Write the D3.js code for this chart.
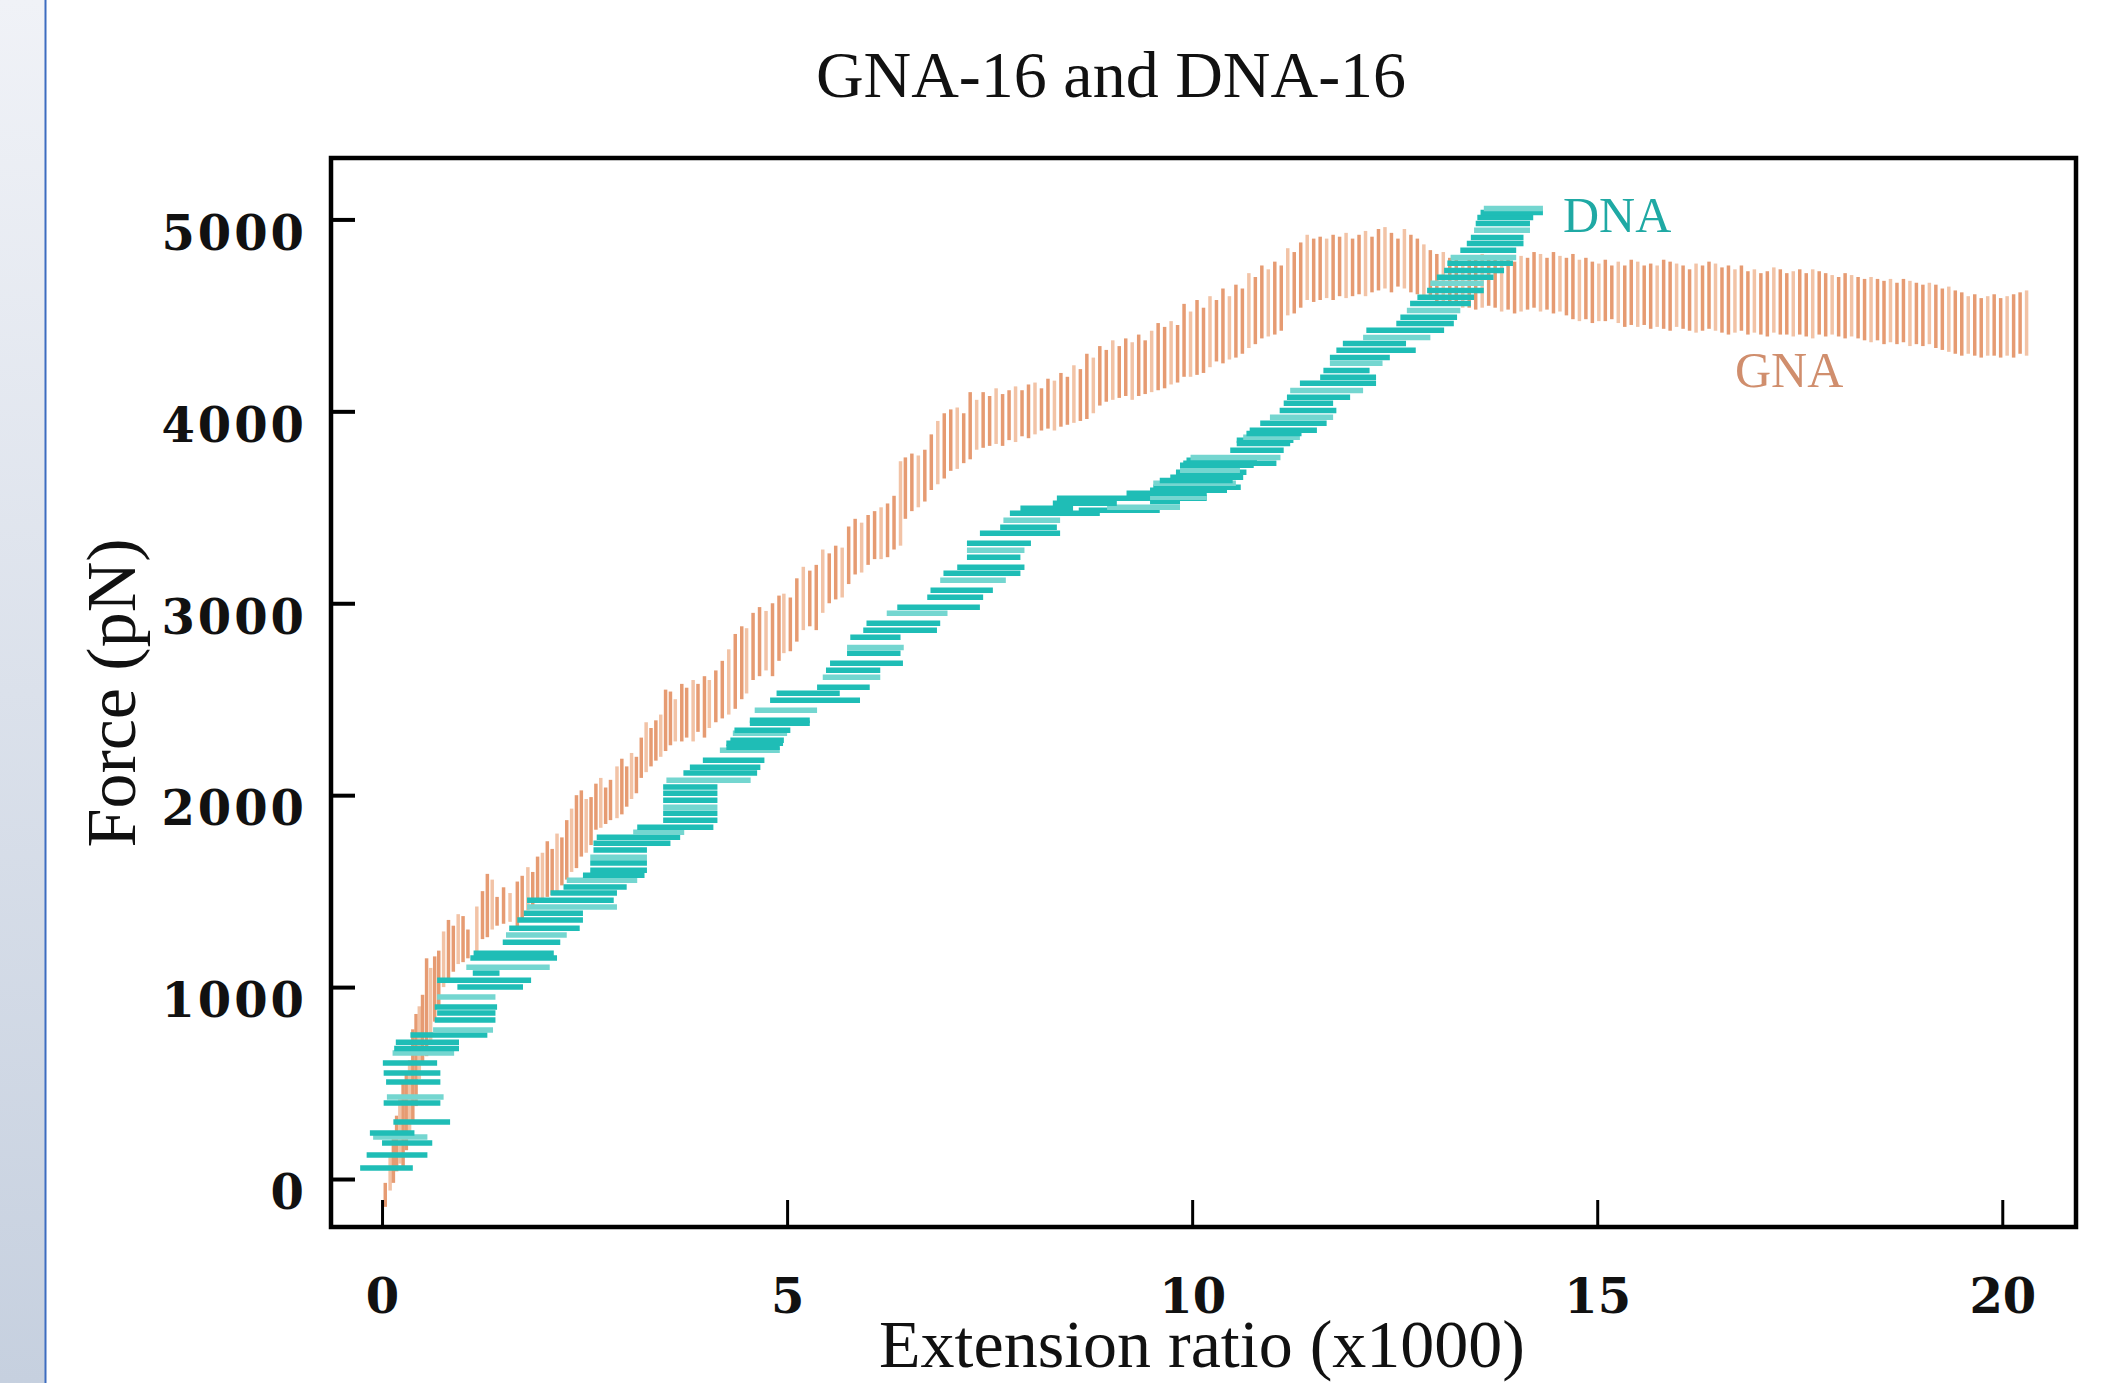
<!DOCTYPE html>
<html>
<head>
<meta charset="utf-8">
<script src="https://cdn.jsdelivr.net/npm/d3@7"></script>
<style>
  html, body { margin: 0; padding: 0; background: #fff; }
  svg { display: block; }
</style>
</head>
<body>
<svg id="chart" width="2101" height="1383"></svg>
<script>
// tick values
const xTicks = [0, 5, 10, 15, 20];
const yTicks = [0, 1000, 2000, 3000, 4000, 5000];

// GNA: vertical bars [extension, force low, force high]
const gnaBars = [
  [0.04,-145,-20],[0.10,-60,120],[0.14,-20,230],[0.18,40,330],[0.22,80,420],[0.26,60,500],
  [0.30,150,560],[0.34,250,620],[0.38,300,780],[0.42,380,860],[0.46,520,900],[0.50,600,960],
  [0.55,640,1150],[0.60,700,1100],[0.65,820,1160],[0.70,900,1190],[0.76,1000,1290],[0.82,1040,1350],
  [0.88,1080,1320],[0.94,1120,1380],[1.00,1130,1370],[1.06,1150,1300],[1.17,1180,1420],[1.24,1250,1500],
  [1.30,1260,1590],[1.36,1300,1560],[1.42,1320,1470],[1.50,1330,1520],[1.58,1340,1490],[1.67,1310,1550],
  [1.73,1360,1580],[1.80,1400,1625],[1.86,1420,1600],[1.92,1440,1680],[1.98,1440,1700],[2.04,1470,1760],
  [2.10,1480,1720],[2.16,1500,1800],[2.22,1530,1780],[2.28,1560,1870],[2.34,1600,1930],[2.40,1620,2000],
  [2.46,1680,2025],[2.52,1700,1980],[2.58,1740,1990],[2.64,1820,2060],[2.70,1830,2090],[2.76,1850,2040],
  [2.82,1870,2080],[2.90,1880,2150],[2.96,1900,2190],[3.02,1940,2150],[3.08,1980,2220],[3.14,2010,2200],
  [3.20,2090,2300],[3.26,2120,2380],[3.32,2150,2350],[3.38,2180,2390],[3.44,2200,2420],[3.50,2230,2550],
  [3.56,2260,2540],[3.62,2280,2500],[3.70,2280,2580],[3.76,2300,2560],[3.84,2280,2600],[3.90,2330,2580],
  [3.98,2300,2620],[4.04,2350,2600],[4.12,2380,2650],[4.20,2400,2700],[4.28,2420,2760],[4.36,2450,2840],
  [4.44,2500,2880],[4.50,2530,2870],[4.58,2600,2950],[4.66,2620,2980],[4.74,2650,2960],[4.82,2620,3000],
  [4.90,2700,3040],[4.96,2740,3050],[5.04,2750,3030],[5.12,2800,3130],[5.20,2860,3190],[5.28,2880,3170],
  [5.36,2860,3200],[5.44,2950,3280],[5.52,3000,3260],[5.60,3020,3300],[5.68,3030,3290],[5.76,3100,3400],
  [5.84,3150,3440],[5.92,3160,3420],[6.00,3200,3460],[6.08,3230,3480],[6.16,3230,3500],[6.24,3240,3520],
  [6.32,3280,3560],[6.40,3300,3740],[6.46,3440,3760],[6.54,3480,3780],[6.62,3500,3770],[6.70,3530,3800],
  [6.78,3590,3880],[6.86,3620,3950],[6.94,3650,3990],[7.02,3690,4010],[7.10,3700,4020],[7.18,3730,3990],
  [7.26,3750,4100],[7.34,3800,4060],[7.42,3810,4100],[7.50,3820,4080],[7.58,3830,4120],[7.66,3820,4090],
  [7.74,3850,4110],[7.82,3840,4130],[7.90,3870,4110],[7.98,3860,4140],[8.06,3880,4150],[8.14,3900,4120],
  [8.22,3910,4170],[8.30,3900,4160],[8.38,3920,4200],[8.46,3930,4180],[8.54,3940,4240],[8.62,3950,4220],
  [8.70,3960,4300],[8.78,3990,4280],[8.86,4030,4340],[8.94,4050,4320],[9.02,4060,4370],[9.10,4070,4340],
  [9.18,4080,4380],[9.26,4060,4360],[9.34,4080,4400],[9.42,4090,4370],[9.50,4100,4420],[9.58,4110,4460],
  [9.66,4120,4440],[9.74,4140,4470],[9.82,4150,4450],[9.90,4180,4560],[9.98,4180,4520],[10.06,4190,4580],
  [10.14,4200,4540],[10.22,4230,4600],[10.30,4260,4580],[10.38,4250,4640],[10.46,4270,4600],[10.54,4280,4660],
  [10.62,4300,4640],[10.70,4330,4720],[10.78,4350,4700],[10.86,4380,4760],[10.94,4390,4740],[11.02,4400,4780],
  [11.10,4420,4760],[11.18,4500,4850],[11.26,4510,4830],[11.34,4540,4880],[11.42,4580,4920],[11.50,4570,4900],
  [11.58,4580,4910],[11.66,4590,4900],[11.74,4580,4920],[11.82,4600,4910],[11.90,4590,4930],[11.98,4600,4900],
  [12.06,4610,4920],[12.14,4600,4940],[12.22,4620,4910],[12.30,4630,4950],[12.38,4640,4960],[12.46,4620,4930],
  [12.54,4650,4900],[12.62,4640,4950],[12.70,4620,4920],[12.78,4610,4900],[12.86,4600,4870],[12.94,4590,4840],
  [13.02,4570,4820],[13.10,4560,4830],[13.18,4560,4800],[13.26,4550,4810],[13.34,4540,4780],[13.42,4540,4800],
  [13.50,4530,4790],[13.58,4540,4820],[13.66,4550,4800],[13.74,4540,4790],[13.82,4520,4810],[13.90,4530,4800],
  [13.98,4510,4780],[14.06,4520,4810],[14.14,4530,4800],[14.22,4540,4830],[14.30,4520,4820],[14.38,4530,4800],
  [14.46,4510,4830],[14.54,4520,4810],[14.62,4500,4800],[14.70,4480,4820],[14.78,4470,4790],[14.86,4480,4800],
  [14.94,4460,4780],[15.02,4470,4770],[15.10,4470,4790],[15.18,4480,4760],[15.26,4460,4780],[15.34,4440,4760],
  [15.42,4450,4790],[15.50,4440,4780],[15.58,4450,4760],[15.66,4430,4770],[15.74,4440,4760],[15.82,4430,4790],
  [15.90,4420,4780],[15.98,4440,4770],[16.06,4430,4760],[16.14,4420,4740],[16.22,4410,4770],[16.30,4420,4760],
  [16.38,4430,4780],[16.46,4420,4770],[16.54,4410,4750],[16.62,4400,4760],[16.70,4410,4740],[16.78,4420,4760],
  [16.86,4400,4730],[16.94,4410,4740],[17.02,4400,4720],[17.10,4390,4730],[17.18,4410,4750],[17.26,4400,4740],
  [17.34,4400,4720],[17.42,4390,4730],[17.50,4400,4740],[17.58,4390,4720],[17.66,4380,4740],[17.74,4400,4730],
  [17.82,4390,4720],[17.90,4400,4710],[17.98,4390,4700],[18.06,4380,4720],[18.14,4390,4710],[18.22,4380,4700],
  [18.30,4370,4690],[18.38,4360,4700],[18.46,4370,4690],[18.54,4350,4680],[18.62,4360,4690],[18.70,4350,4670],
  [18.78,4360,4690],[18.86,4340,4680],[18.94,4350,4670],[19.02,4340,4660],[19.10,4350,4670],[19.18,4330,4660],
  [19.26,4320,4640],[19.34,4310,4650],[19.42,4300,4630],[19.50,4290,4620],[19.58,4300,4600],[19.66,4290,4610],
  [19.74,4280,4590],[19.82,4290,4600],[19.90,4290,4610],[19.98,4280,4590],[20.06,4290,4600],[20.14,4280,4610],
  [20.22,4300,4620],[20.30,4290,4630]
];

// DNA: horizontal bars [force, extension low, extension high]
const dnaBars = [
  [57,-0.27,0.38],[125,-0.19,0.56],[188,0.0,0.62],[219,-0.11,0.56],[240,-0.15,0.40],[297,0.14,0.84],
  [396,0.02,0.72],[427,0.06,0.76],[505,0.05,0.72],[552,0.02,0.72],[604,0.01,0.68],[656,0.13,0.89],
  [680,0.15,0.95],[713,0.17,0.95],[750,0.35,1.30],[776,0.63,1.37],[828,0.65,1.40],[865,0.68,1.40],
  [896,0.65,1.42],[948,0.68,1.40],[1000,0.93,1.74],[1036,0.68,1.84],[1073,1.12,1.45],[1104,1.04,2.07],
  [1151,1.09,2.16],[1177,1.13,2.12],[1234,1.49,2.20],[1271,1.53,2.28],[1307,1.57,2.44],[1349,1.67,2.48],
  [1385,1.75,2.48],[1417,1.79,2.90],[1453,1.79,2.86],[1490,2.08,2.90],[1521,2.24,3.02],[1557,2.28,3.15],
  [1583,2.48,3.24],[1609,2.57,3.27],[1646,2.57,3.27],[1677,2.57,3.27],[1714,2.61,3.27],[1750,2.61,3.56],
  [1781,2.65,3.68],[1807,3.10,3.73],[1833,3.15,4.09],[1870,3.47,4.14],[1906,3.47,4.14],[1937,3.47,4.14],
  [1974,3.47,4.14],[2010,3.47,4.14],[2042,3.47,4.14],[2078,3.51,4.55],[2115,3.72,4.63],[2146,3.80,4.67],
  [2182,3.96,4.72],[2234,4.17,4.91],[2250,4.25,4.91],[2271,4.25,4.95],[2286,4.30,4.96],[2323,4.33,5.00],
  [2338,4.35,5.04],[2375,4.54,5.28],[2390,4.54,5.28],[2443,4.60,5.37],[2495,4.79,5.90],[2531,4.87,5.65],
  [2562,5.37,6.02],[2614,5.44,6.15],[2651,5.48,6.15],[2687,5.53,6.43],[2740,5.74,6.40],[2770,5.74,6.44],
  [2823,5.78,6.40],[2860,5.94,6.85],[2896,5.98,6.89],[2948,6.23,6.98],[2979,6.36,7.38],[3031,6.73,7.42],
  [3068,6.77,7.54],[3120,6.89,7.70],[3156,6.93,7.88],[3188,7.10,7.93],[3240,7.22,7.88],[3276,7.22,7.93],
  [3313,7.22,8.01],[3365,7.38,8.37],[3396,7.63,8.33],[3432,7.67,8.37],[3469,7.75,8.86],[3484,8.60,9.60],
  [3495,7.88,8.53],[3500,8.95,9.85],[3521,8.28,9.07],[3530,9.48,9.85],[3547,8.33,10.18],[3552,9.48,10.18],
  [3573,9.19,10.18],[3589,9.48,10.43],[3604,9.52,10.60],[3625,9.52,10.54],[3640,9.60,10.50],[3656,9.73,10.63],
  [3682,9.80,10.67],[3693,9.85,10.59],[3719,9.85,10.76],[3729,9.89,11.04],[3745,9.93,10.80],[3760,9.98,11.09],
  [3797,10.47,11.13],[3833,10.55,11.21],[3849,10.55,11.25],[3865,10.63,11.33],[3885,10.67,11.35],[3901,10.71,11.54],
  [3938,10.84,11.66],[3969,10.96,11.74],[4005,11.08,11.78],[4042,11.13,11.74],[4073,11.17,11.95],[4109,11.21,12.11],
  [4146,11.33,12.27],[4177,11.58,12.27],[4213,11.62,12.19],[4250,11.70,12.35],[4281,11.70,12.44],[4318,11.78,12.76],
  [4354,11.86,12.64],[4385,12.11,12.94],[4422,12.15,13.11],[4458,12.52,13.23],[4490,12.57,13.27],[4526,12.65,13.31],
  [4562,12.69,13.44],[4594,12.78,13.48],[4630,12.90,13.60],[4667,12.94,13.60],[4698,13.02,13.72],[4734,13.11,13.85],
  [4771,13.15,13.96],[4802,13.19,14.00],[4839,13.31,14.00],[4875,13.39,14.09],[4906,13.44,14.09],[4943,13.48,14.17],
  [4979,13.50,14.17],[5010,13.52,14.21],[5036,13.56,14.33],[5057,13.60,14.33]
];

const width = 2101, height = 1383;
const frame = { left: 331, right: 2076, top: 158, bottom: 1227 };

const svg = d3.select('#chart');

// 左侧边栏
const defs = svg.append('defs');
const grad = defs.append('linearGradient')
  .attr('id', 'side').attr('x1', 0).attr('y1', 0).attr('x2', 0).attr('y2', 1);
grad.append('stop').attr('offset', '0%').attr('stop-color', '#f0f2f7');
grad.append('stop').attr('offset', '100%').attr('stop-color', '#c6d0df');
svg.append('rect').attr('x', 0).attr('y', 0).attr('width', 45).attr('height', height)
  .attr('fill', 'url(#side)');
svg.append('line').attr('x1', 45.5).attr('x2', 45.5).attr('y1', 0).attr('y2', height)
  .attr('stroke', '#3d6cc0').attr('stroke-width', 2);

// scales
const x = d3.scaleLinear().domain([-0.63, 20.91]).range([frame.left, frame.right]);
const y = d3.scaleLinear().domain([-250, 5320]).range([frame.bottom, frame.top]);

// GNA vertical bars
svg.append('g')
  .selectAll('line')
  .data(gnaBars)
  .enter()
  .append('line')
  .attr('x1', d => x(d[0]))
  .attr('x2', d => x(d[0]))
  .attr('y1', d => y(d[1]))
  .attr('y2', d => y(d[2]))
  .attr('stroke', (d, i) => i % 3 === 1 ? '#f2c3a6' : '#e69b72')
  .attr('stroke-width', 3.5);

// DNA horizontal bars
svg.append('g')
  .selectAll('line')
  .data(dnaBars)
  .enter()
  .append('line')
  .attr('x1', d => x(d[1]))
  .attr('x2', d => x(d[2]))
  .attr('y1', d => y(d[0]))
  .attr('y2', d => y(d[0]))
  .attr('stroke', (d, i) => i % 4 === 3 ? '#74d6d0' : '#1fbdb6')
  .attr('stroke-width', 5.5);

// frame
svg.append('rect')
  .attr('x', frame.left).attr('y', frame.top)
  .attr('width', frame.right - frame.left).attr('height', frame.bottom - frame.top)
  .attr('fill', 'none').attr('stroke', '#000').attr('stroke-width', 4.5);

// y axis
const yAxis = svg.append('g')
  .attr('transform', `translate(${frame.left},0)`)
  .call(d3.axisLeft(y).tickValues(yTicks).tickFormat(d3.format('d'))
    .tickSizeInner(-24).tickSizeOuter(0).tickPadding(24));
yAxis.select('.domain').remove();
yAxis.selectAll('.tick line').attr('stroke', '#000').attr('stroke-width', 4);
yAxis.selectAll('.tick text')
  .attr('dy', '0.62em')
  .style('font-family', '"DejaVu Serif", serif')
  .style('font-weight', 'bold')
  .style('font-size', '48px')
  .style('letter-spacing', '3px')
  .attr('fill', '#111');

// x axis
const xAxis = svg.append('g')
  .attr('transform', `translate(0,${frame.bottom})`)
  .call(d3.axisBottom(x).tickValues(xTicks).tickFormat(d3.format('d'))
    .tickSizeInner(-27).tickSizeOuter(0));
xAxis.select('.domain').remove();
xAxis.selectAll('.tick line').attr('stroke', '#000').attr('stroke-width', 3);
xAxis.selectAll('.tick text')
  .attr('y', 86).attr('dy', 0)
  .style('font-family', '"DejaVu Serif", serif')
  .style('font-weight', 'bold')
  .style('font-size', '48px')
  .attr('fill', '#111');

// titles
svg.append('text')
  .attr('x', 1111).attr('y', 97)
  .attr('text-anchor', 'middle')
  .style('font-family', '"Liberation Serif", serif')
  .style('font-size', '66px')
  .attr('fill', '#111')
  .text('GNA-16 and DNA-16');

svg.append('text')
  .attr('x', 1202).attr('y', 1367)
  .attr('text-anchor', 'middle')
  .style('font-family', '"Liberation Serif", serif')
  .style('font-size', '68px')
  .attr('fill', '#111')
  .text('Extension ratio (x1000)');

svg.append('text')
  .attr('transform', 'translate(135,693) rotate(-90)')
  .attr('text-anchor', 'middle')
  .style('font-family', '"Liberation Serif", serif')
  .style('font-size', '70px')
  .attr('fill', '#111')
  .text('Force (pN)');

// series labels
svg.append('text')
  .attr('x', 1563).attr('y', 232)
  .style('font-family', '"Liberation Serif", serif')
  .style('font-size', '50px')
  .attr('fill', '#1fa9a4')
  .text('DNA');

svg.append('text')
  .attr('x', 1735).attr('y', 387)
  .style('font-family', '"Liberation Serif", serif')
  .style('font-size', '50px')
  .attr('fill', '#d08e6d')
  .text('GNA');
</script>
</body>
</html>
